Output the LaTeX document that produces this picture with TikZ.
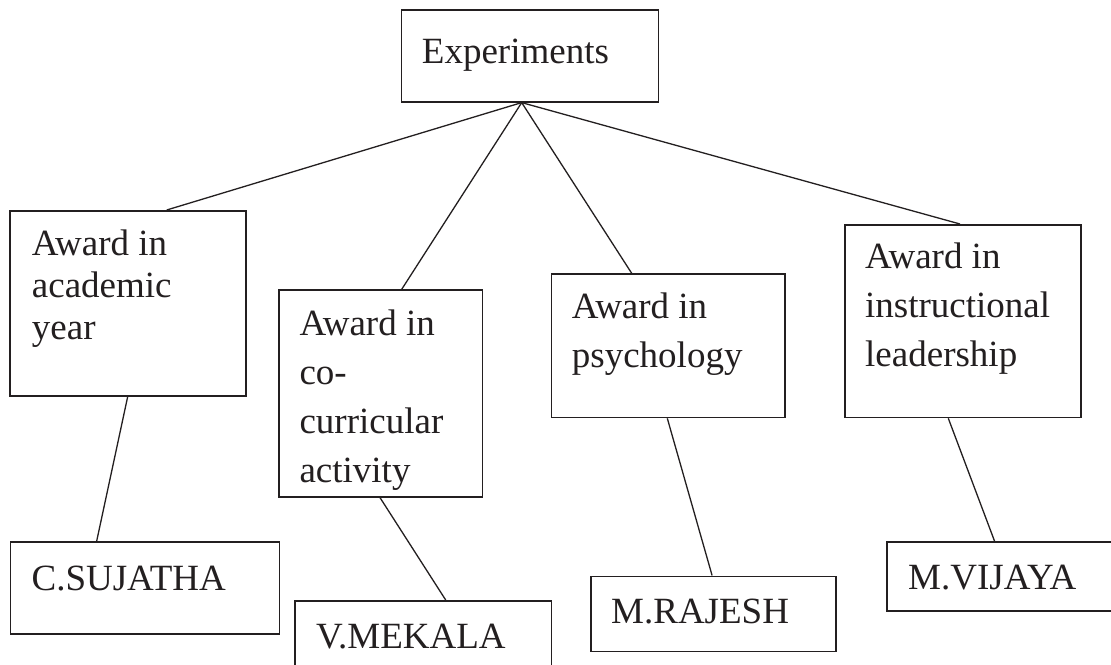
\documentclass[tikz,border=0pt]{standalone}
\usepackage{fontspec}
\setmainfont{Liberation Serif}
\usetikzlibrary{calc}
\definecolor{ink}{RGB}{35,31,32}
\tikzset{
  box/.style={draw=ink, line width=1.6pt, inner sep=0pt, anchor=north west},
  txt/.style={inner sep=0pt, anchor=base west, text=ink, font=\fontsize{37}{49}\selectfont},
  tight/.style={font=\fontsize{37}{42}\selectfont},
  link/.style={draw=ink, line width=1.3pt}
}
\begin{document}
\begin{tikzpicture}[x=1pt,y=-1pt]
\useasboundingbox (0,0) rectangle (1111,664);
\fill[white] (0,0) rectangle (1111,664);
\clip (0,0) rectangle (1111,664);

% root
\node[box, minimum width=257pt, minimum height=91.7pt] (exp) at (400.7,9.3) {};
\node[txt] (expt) at ($(exp.north west)+(21,54)$) {Experiments};

% award categories
\node[box, minimum width=235.7pt, minimum height=185pt] (acad) at (9.3,210) {};
\node[txt, tight] (acadt) at ($(acad.north west)+(22.4,45)$)
  {\begin{tabular}[t]{@{}l@{}}Award in\\academic\\year\end{tabular}};

\node[box, minimum width=203.4pt, minimum height=206.7pt] (cocu) at (278.3,289.3) {};
\node[txt] (cocut) at ($(cocu.north west)+(21,45.7)$)
  {\begin{tabular}[t]{@{}l@{}}Award in\\co-\\curricular\\activity\end{tabular}};

\node[box, minimum width=233.3pt, minimum height=143.4pt] (psy) at (550.7,273.3) {};
\node[txt] (psyt) at ($(psy.north west)+(21,45)$)
  {\begin{tabular}[t]{@{}l@{}}Award in\\psychology\end{tabular}};

\node[box, minimum width=235.7pt, minimum height=192.7pt] (inst) at (844.3,224) {};
\node[txt] (instt) at ($(inst.north west)+(20.7,44.3)$)
  {\begin{tabular}[t]{@{}l@{}}Award in\\instructional\\leadership\end{tabular}};

% recipients
\node[box, minimum width=269pt, minimum height=92pt] (suj) at (9.6,541) {};
\node[txt] (sujt) at ($(suj.north west)+(21.8,49)$) {C.SUJATHA};

\node[box, minimum width=256.7pt, minimum height=90pt] (mek) at (294,600) {};
\node[txt] (mekt) at ($(mek.north west)+(22,48.6)$) {V.MEKALA};

\node[box, minimum width=245.2pt, minimum height=75.2pt] (raj) at (589.9,575.5) {};
\node[txt] (rajt) at ($(raj.north west)+(21.1,48.2)$) {M.RAJESH};

\node[box, minimum width=240pt, minimum height=69pt] (vij) at (886,541) {};
\node[txt] (vijt) at ($(vij.north west)+(22,48)$) {M.VIJAYA};

% connectors from the root
\coordinate (hub) at ($(exp.south west)+(121,0)$);
\draw[link] (hub) -- ($(acad.north west)+(157.4,0)$);
\draw[link] (hub) -- ($(cocu.north west)+(123.4,0)$);
\draw[link] (hub) -- ($(psy.north west)+(81,0)$);
\draw[link] (hub) -- ($(inst.north west)+(115.7,0)$);

% connectors to the recipients
\draw[link] ($(acad.south west)+(118.4,0)$) -- ($(suj.north west)+(87.1,0)$);
\draw[link] ($(cocu.south west)+(101.7,0)$) -- ($(mek.north west)+(151.7,0)$);
\draw[link] ($(psy.south west)+(116.6,0)$) -- ($(raj.north west)+(122.2,0)$);
\draw[link] ($(inst.south west)+(104,0)$) -- ($(vij.north west)+(108.5,0)$);
\end{tikzpicture}
\end{document}
